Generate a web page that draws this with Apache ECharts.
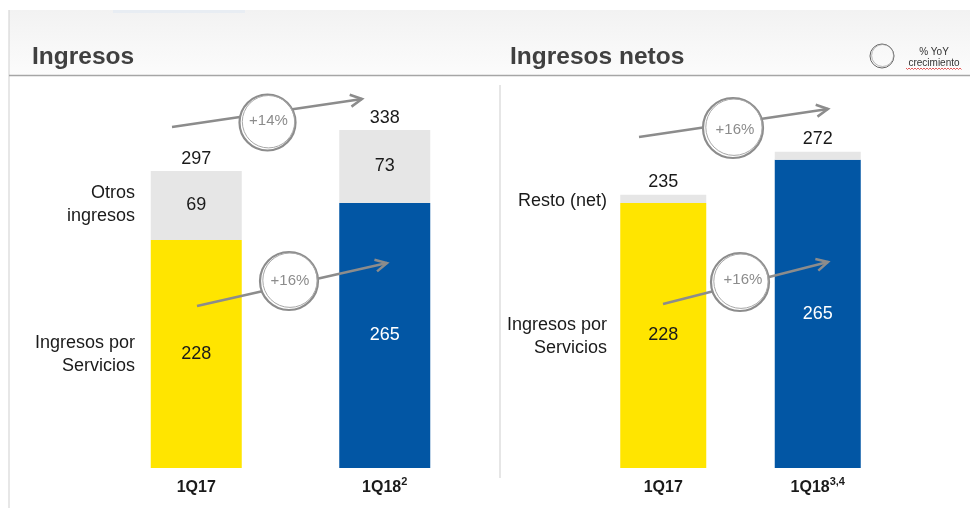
<!DOCTYPE html>
<html><head><meta charset="utf-8">
<script src="https://cdn.jsdelivr.net/npm/echarts@6/dist/echarts.min.js"></script>
<style>html,body{margin:0;padding:0;background:#fff}#c{width:970px;height:508px}</style>
</head><body><div id="c"></div>
<script>
// ---- data ----
const categories = ['1Q17', '1Q18'];
const supLeft = ['', '2'];
const supRight = ['', '3,4'];
const ingresosServicios = [228, 265];
const ingresosOtros = [69, 73];
const ingresosTotal = [297, 338];
const netosServicios = [228, 265];
const netosResto = [7, 7];
const netosTotal = [235, 272];
const growthLabels = ['+14%', '+16%', '+16%', '+16%'];
const panelTitles = ['Ingresos', 'Ingresos netos'];
const segmentNamesLeft = ['Otros\ningresos', 'Ingresos por\nServicios'];
const segmentNamesRight = ['Resto (net)', 'Ingresos por\nServicios'];
const legendText = ['% YoY', 'crecimiento'];

// ---- styles ----
const FONT = '"Liberation Sans", Arial, sans-serif';
const YELLOW = '#FFE500', BLUE = '#0256A4', GRAY = '#E6E6E6', TXT = '#1a1a1a', ANN = '#8c8c8c';
const baseColors = [YELLOW, BLUE];
const baseLabelColors = [TXT, '#ffffff'];

const chart = echarts.init(document.getElementById('c'), null, {renderer: 'canvas'});

function baseData(vals) {
  return vals.map((v, i) => ({value: v, itemStyle: {color: baseColors[i]}, label: {color: baseLabelColors[i]}}));
}
function xAxis(gridIndex, sups) {
  return {
    type: 'category', gridIndex, data: categories,
    axisLine: {show: false}, axisTick: {show: false},
    axisLabel: {
      margin: 8, fontFamily: FONT, fontSize: 16, fontWeight: 'bold', color: TXT,
      formatter: (v, i) => '{b|' + v + '}' + (sups[i] ? '{s|' + sups[i] + '}' : ''),
      rich: {
        b: {fontFamily: FONT, fontSize: 16, fontWeight: 'bold', color: TXT, lineHeight: 20, verticalAlign: 'bottom'},
        s: {fontFamily: FONT, fontSize: 11, color: TXT, lineHeight: 20, verticalAlign: 'top'}
      }
    }
  };
}
function yAxis(gridIndex, max) {
  return {type: 'value', gridIndex, min: 0, max, show: false, splitLine: {show: false}};
}
const lbl = (extra) => Object.assign({show: true, fontFamily: FONT, fontSize: 18, color: TXT}, extra);

function arrow(x1, y1, x2, y2) {
  const ang = Math.atan2(y2 - y1, x2 - x1), L = 13, a = 0.48;
  const p1 = [x2 - L * Math.cos(ang - a), y2 - L * Math.sin(ang - a)];
  const p2 = [x2 - L * Math.cos(ang + a), y2 - L * Math.sin(ang + a)];
  return [
    {type: 'line', z: 100, shape: {x1, y1, x2, y2}, style: {stroke: ANN, lineWidth: 2.5}},
    {type: 'polyline', z: 100, shape: {points: [p1, [x2, y2], p2]}, style: {stroke: ANN, lineWidth: 2.5, fill: null, lineJoin: 'miter'}}
  ];
}
function badge(cx, cy, r, text, tx, ty) {
  return [
    {type: 'circle', z: 101, shape: {cx, cy, r}, style: {fill: '#ffffff', stroke: ANN, lineWidth: 2.2}},
    {type: 'circle', z: 101, shape: {cx: cx + 1, cy: cy - 0.8, r: r - 1.8}, style: {fill: null, stroke: '#a8a8a8', lineWidth: 1}},
    {type: 'text', z: 102, style: {text, x: tx, y: ty, align: 'center', verticalAlign: 'middle', fontFamily: FONT, fontSize: 15, fill: ANN}}
  ];
}
function wavy(x1, x2, y) {
  const pts = [];
  for (let x = x1, k = 0; x <= x2; x += 1.5, k++) pts.push([x, y + (k % 2 ? 1 : -0.5)]);
  return {type: 'polyline', z: 100, shape: {points: pts}, style: {stroke: '#e03030', lineWidth: 0.8, fill: null}};
}

const graphics = [
  {type: 'rect', z: -10, shape: {x: 9, y: 10, width: 961, height: 65},
   style: {fill: new echarts.graphic.LinearGradient(0, 0, 0, 1, [{offset: 0, color: '#f2f2f2'}, {offset: 1, color: '#fcfcfc'}])}},
  {type: 'rect', z: -9, shape: {x: 113, y: 10, width: 132, height: 3}, style: {fill: '#e8edf3'}},
  {type: 'line', z: -5, shape: {x1: 9, y1: 10, x2: 9, y2: 508}, style: {stroke: '#cfcfcf', lineWidth: 1}},
  {type: 'line', z: -5, shape: {x1: 9, y1: 75.5, x2: 970, y2: 75.5}, style: {stroke: '#a6a6a6', lineWidth: 1.5}},
  {type: 'line', z: -5, shape: {x1: 500, y1: 85, x2: 500, y2: 478}, style: {stroke: '#dedede', lineWidth: 1.5}},
  {type: 'text', style: {text: panelTitles[0], x: 32, y: 57, verticalAlign: 'middle', fontFamily: FONT, fontSize: 24.5, fontWeight: 'bold', fill: '#404040'}},
  {type: 'text', style: {text: panelTitles[1], x: 510, y: 57, verticalAlign: 'middle', fontFamily: FONT, fontSize: 24.5, fontWeight: 'bold', fill: '#404040'}},
  {type: 'text', style: {text: segmentNamesLeft[0], x: 135, y: 205, align: 'right', verticalAlign: 'middle', fontFamily: FONT, fontSize: 18, lineHeight: 23, fill: TXT}},
  {type: 'text', style: {text: segmentNamesLeft[1], x: 135, y: 355, align: 'right', verticalAlign: 'middle', fontFamily: FONT, fontSize: 18, lineHeight: 23, fill: TXT}},
  {type: 'text', style: {text: segmentNamesRight[0], x: 607, y: 201, align: 'right', verticalAlign: 'middle', fontFamily: FONT, fontSize: 18, lineHeight: 23, fill: TXT}},
  {type: 'text', style: {text: segmentNamesRight[1], x: 607, y: 337, align: 'right', verticalAlign: 'middle', fontFamily: FONT, fontSize: 18, lineHeight: 23, fill: TXT}},
  // legend
  {type: 'circle', z: 100, shape: {cx: 882, cy: 56, r: 12}, style: {fill: null, stroke: '#666', lineWidth: 1}},
  {type: 'circle', z: 100, shape: {cx: 882.6, cy: 55.5, r: 11}, style: {fill: null, stroke: '#999', lineWidth: 0.7}},
  {type: 'text', style: {text: legendText[0], x: 934, y: 52, align: 'center', verticalAlign: 'middle', fontFamily: FONT, fontSize: 10, fill: '#333'}},
  {type: 'text', style: {text: legendText[1], x: 934, y: 63.5, align: 'center', verticalAlign: 'middle', fontFamily: FONT, fontSize: 10, fill: '#333'}},
  wavy(906, 962, 68.5),
  ...arrow(172, 127, 362, 99), ...badge(267.5, 122.5, 28, growthLabels[0], 268.5, 121),
  ...arrow(197, 306, 387, 263), ...badge(289, 281, 29, growthLabels[1], 290, 280.5),
  ...arrow(639, 137, 828, 109), ...badge(733, 128, 30, growthLabels[2], 735, 130),
  ...arrow(663, 304, 828, 262), ...badge(740, 282, 29, growthLabels[3], 743, 279.5)
];

chart.setOption({
  animation: false,
  backgroundColor: '#ffffff',
  grid: [
    {left: 102, width: 377, top: 68, height: 400},
    {left: 586, width: 309, top: 68, height: 400}
  ],
  xAxis: [xAxis(0, supLeft), xAxis(1, supRight)],
  yAxis: [yAxis(0, 400), yAxis(1, 344)],
  series: [
    {type: 'bar', name: 'Ingresos por Servicios', xAxisIndex: 0, yAxisIndex: 0, stack: 'L', barWidth: 91,
     data: baseData(ingresosServicios), label: lbl({position: 'inside'})},
    {type: 'bar', name: 'Otros ingresos', xAxisIndex: 0, yAxisIndex: 0, stack: 'L', barWidth: 91,
     data: ingresosOtros, itemStyle: {color: GRAY}, label: lbl({position: 'inside'})},
    {type: 'bar', name: 'Total', xAxisIndex: 0, yAxisIndex: 0, barWidth: 91, barGap: '-100%', z: 1,
     data: ingresosTotal, itemStyle: {color: 'rgba(0,0,0,0)'}, label: lbl({position: 'top', distance: 3})},
    {type: 'bar', name: 'Ingresos por Servicios (net)', xAxisIndex: 1, yAxisIndex: 1, stack: 'R', barWidth: 86,
     data: baseData(netosServicios), label: lbl({position: 'inside'})},
    {type: 'bar', name: 'Resto (net)', xAxisIndex: 1, yAxisIndex: 1, stack: 'R', barWidth: 86,
     data: netosResto, itemStyle: {color: GRAY}, label: {show: false}},
    {type: 'bar', name: 'Total netos', xAxisIndex: 1, yAxisIndex: 1, barWidth: 86, barGap: '-100%', z: 1,
     data: netosTotal, itemStyle: {color: 'rgba(0,0,0,0)'}, label: lbl({position: 'top', distance: 4})}
  ],
  graphic: {elements: graphics}
});
</script>
</body></html>
